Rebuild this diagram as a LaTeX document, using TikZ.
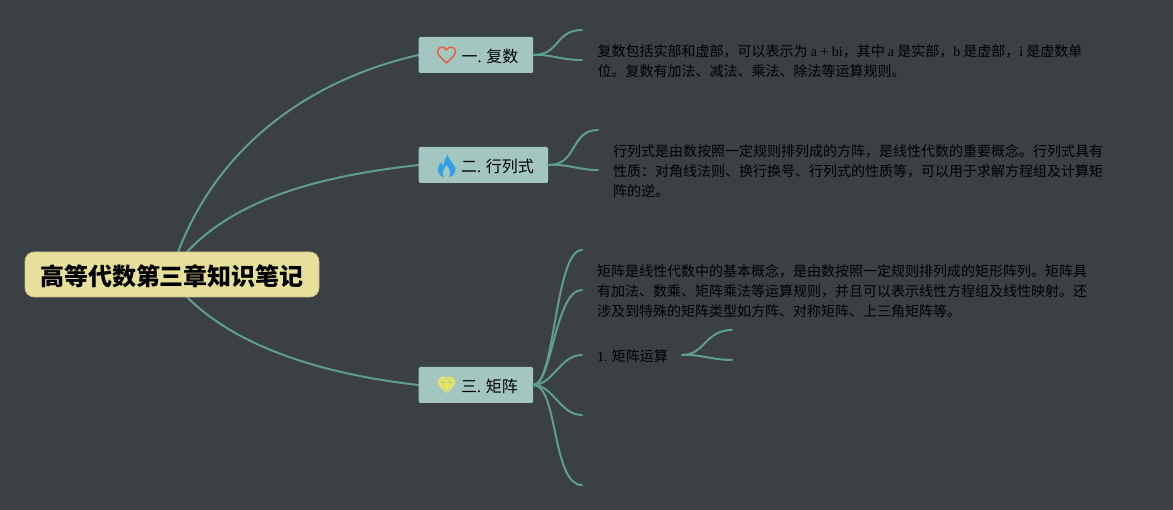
\documentclass[tikz,border=0pt]{standalone}
\usepackage{fontspec}
\setmainfont{Liberation Serif}
\newfontfamily\cjk{Noto Sans CJK SC}
\definecolor{bgc}{HTML}{3A4043}
\definecolor{edgec}{HTML}{5F9E8F}
\definecolor{boxc}{HTML}{A3C6C0}
\definecolor{rootc}{HTML}{E8E09A}
\definecolor{inkc}{HTML}{000000}
\tikzset{
  branch/.style={draw=edgec,line width=2pt,line cap=round},
  topicbox/.style={rectangle,rounded corners=2pt,fill=boxc,minimum height=36pt,inner sep=0pt,anchor=west},
  topiclabel/.style={anchor=west,inner sep=0pt,text=inkc,font=\fontsize{16}{20}\selectfont\cjk},
  rootbox/.style={rectangle,rounded corners=9pt,fill=rootc,draw=rootc!85!black,line width=.6pt,minimum width=294pt,minimum height=45pt,inner sep=0pt,text height=24pt,text depth=2pt,text=black,font=\fontsize{24}{28}\selectfont\cjk\bfseries},
  note/.style={anchor=north west,inner sep=0pt,align=left,text=inkc,font=\fontsize{14}{20}\selectfont\cjk},
}
\newcommand{\lat}[1]{{\rmfamily #1}}
\begin{document}
\begin{tikzpicture}[x=1pt,y=-1pt]
\useasboundingbox[fill=bgc] (0,0) rectangle (1173,510);
% free ends
\coordinate (a1) at (582,30);
\coordinate (a2) at (582,60);
\coordinate (b1) at (598,130);
\coordinate (b2) at (598,170);
\coordinate (c1) at (582,250);
\coordinate (c2) at (582,290);
\coordinate (c3) at (582,355);
\coordinate (c4) at (582,415);
\coordinate (c5) at (582,485);
\coordinate (d0) at (682,355);
\coordinate (d1) at (732,330);
\coordinate (d2) at (732,360);
\coordinate (r1) at (178,252);
\coordinate (r2) at (187,252);
\coordinate (r3) at (187,297);
\coordinate (e1) at (418.5,55);
\coordinate (e2) at (418.5,165);
\coordinate (e3) at (418.5,385);
% connectors from the root
\draw[branch] (r1) .. controls (225,130) and (330,75) .. (e1);
\draw[branch] (r2) .. controls (240,195) and (330,175) .. (e2);
\draw[branch] (r3) .. controls (240,350) and (330,375) .. (e3);
% nodes
\node[topicbox,minimum width=114.5pt] (t1) at (e1) {};
\node[topicbox,minimum width=129.5pt] (t2) at (e2) {};
\node[topicbox,minimum width=114.5pt] (t3) at (e3) {};
\node[rootbox] (root) at (172,274.5) {高等代数第三章知识笔记};
\node[topiclabel] (l1) at (461.5,56.5) {一\lat{.} 复数};
\node[topiclabel] (l2) at (461,166.5) {二\lat{.} 行列式};
\node[topiclabel] (l3) at (461,386.5) {三\lat{.} 矩阵};
\node[note] (n1) at (597.5,44.5) {复数包括实部和虚部，可以表示为 \lat{a + bi}，其中 \lat{a} 是实部，\lat{b} 是虚部，\lat{i} 是虚数单\\位。复数有加法、减法、乘法、除法等运算规则。};
\node[note] (n2) at (613,144.5) {行列式是由数按照一定规则排列成的方阵，是线性代数的重要概念。行列式具有\\性质：对角线法则、换行换号、行列式的性质等，可以用于求解方程组及计算矩\\阵的逆。};
\node[note] (n3) at (597,264.5) {矩阵是线性代数中的基本概念，是由数按照一定规则排列成的矩形阵列。矩阵具\\有加法、数乘、矩阵乘法等运算规则，并且可以表示线性方程组及线性映射。还\\涉及到特殊的矩阵类型如方阵、对称矩阵、上三角矩阵等。};
\node[note,anchor=west] (n4) at (597,356) {\lat{1.} 矩阵运算};
% connectors from the topics
\draw[branch] (t1.east) .. controls (560,55) and (555,30) .. (a1);
\draw[branch] (t1.east) .. controls (550,54) and (560,60) .. (a2);
\draw[branch] (t2.east) .. controls (578,165) and (570,130) .. (b1);
\draw[branch] (t2.east) .. controls (570,164) and (578,170) .. (b2);
\draw[branch] (t3.east) .. controls (555,385) and (555,250) .. (c1);
\draw[branch] (t3.east) .. controls (552,385) and (555,290) .. (c2);
\draw[branch] (t3.east) .. controls (553,385) and (560,355) .. (c3);
\draw[branch] (t3.east) .. controls (553,385) and (560,415) .. (c4);
\draw[branch] (t3.east) .. controls (558,385) and (552,485) .. (c5);
\draw[branch] (d0) .. controls (705,355) and (705,330) .. (d1);
\draw[branch] (d0) .. controls (700,354) and (712,360) .. (d2);
% icons
\draw[draw=red!60!brown!80,line width=1.5pt,line join=round] (446.5,63) .. controls (442,58.5) and (438,55.5) .. (437.5,52) .. controls (437,47) and (444,45) .. (446.5,50) .. controls (449,45) and (456,47) .. (455.5,52) .. controls (455,55.5) and (451,58.5) .. (446.5,63) -- cycle;
\fill[fill={rgb,255:red,47;green,160;blue,232}] (447.5,155) .. controls (449,161) and (456,165) .. (455.5,170) .. controls (455,175) and (451,177) .. (449,177) .. controls (452,173) and (449,168) .. (446.5,165) .. controls (444,168) and (441,173) .. (444,177) .. controls (441,177) and (437.5,174) .. (438,169) .. controls (438.3,166) and (440,163.5) .. (441,162) .. controls (441.5,164) and (442.5,165.5) .. (443.5,165.5) .. controls (444,161) and (445,158) .. (447.5,155) -- cycle;
\fill[fill={rgb,255:red,232;green,232;blue,90}] (440.5,377) -- (452.5,377) -- (456,382.5) -- (446.5,394) -- (437,382.5) -- cycle;
\draw[draw=boxc,line width=.5pt] (437,382.5) -- (456,382.5) (442.5,382.5) -- (446.5,394) -- (450.5,382.5) (440.5,377) -- (442.5,382.5) -- (446.5,377) -- (450.5,382.5) -- (452.5,377);
\end{tikzpicture}
\end{document}
